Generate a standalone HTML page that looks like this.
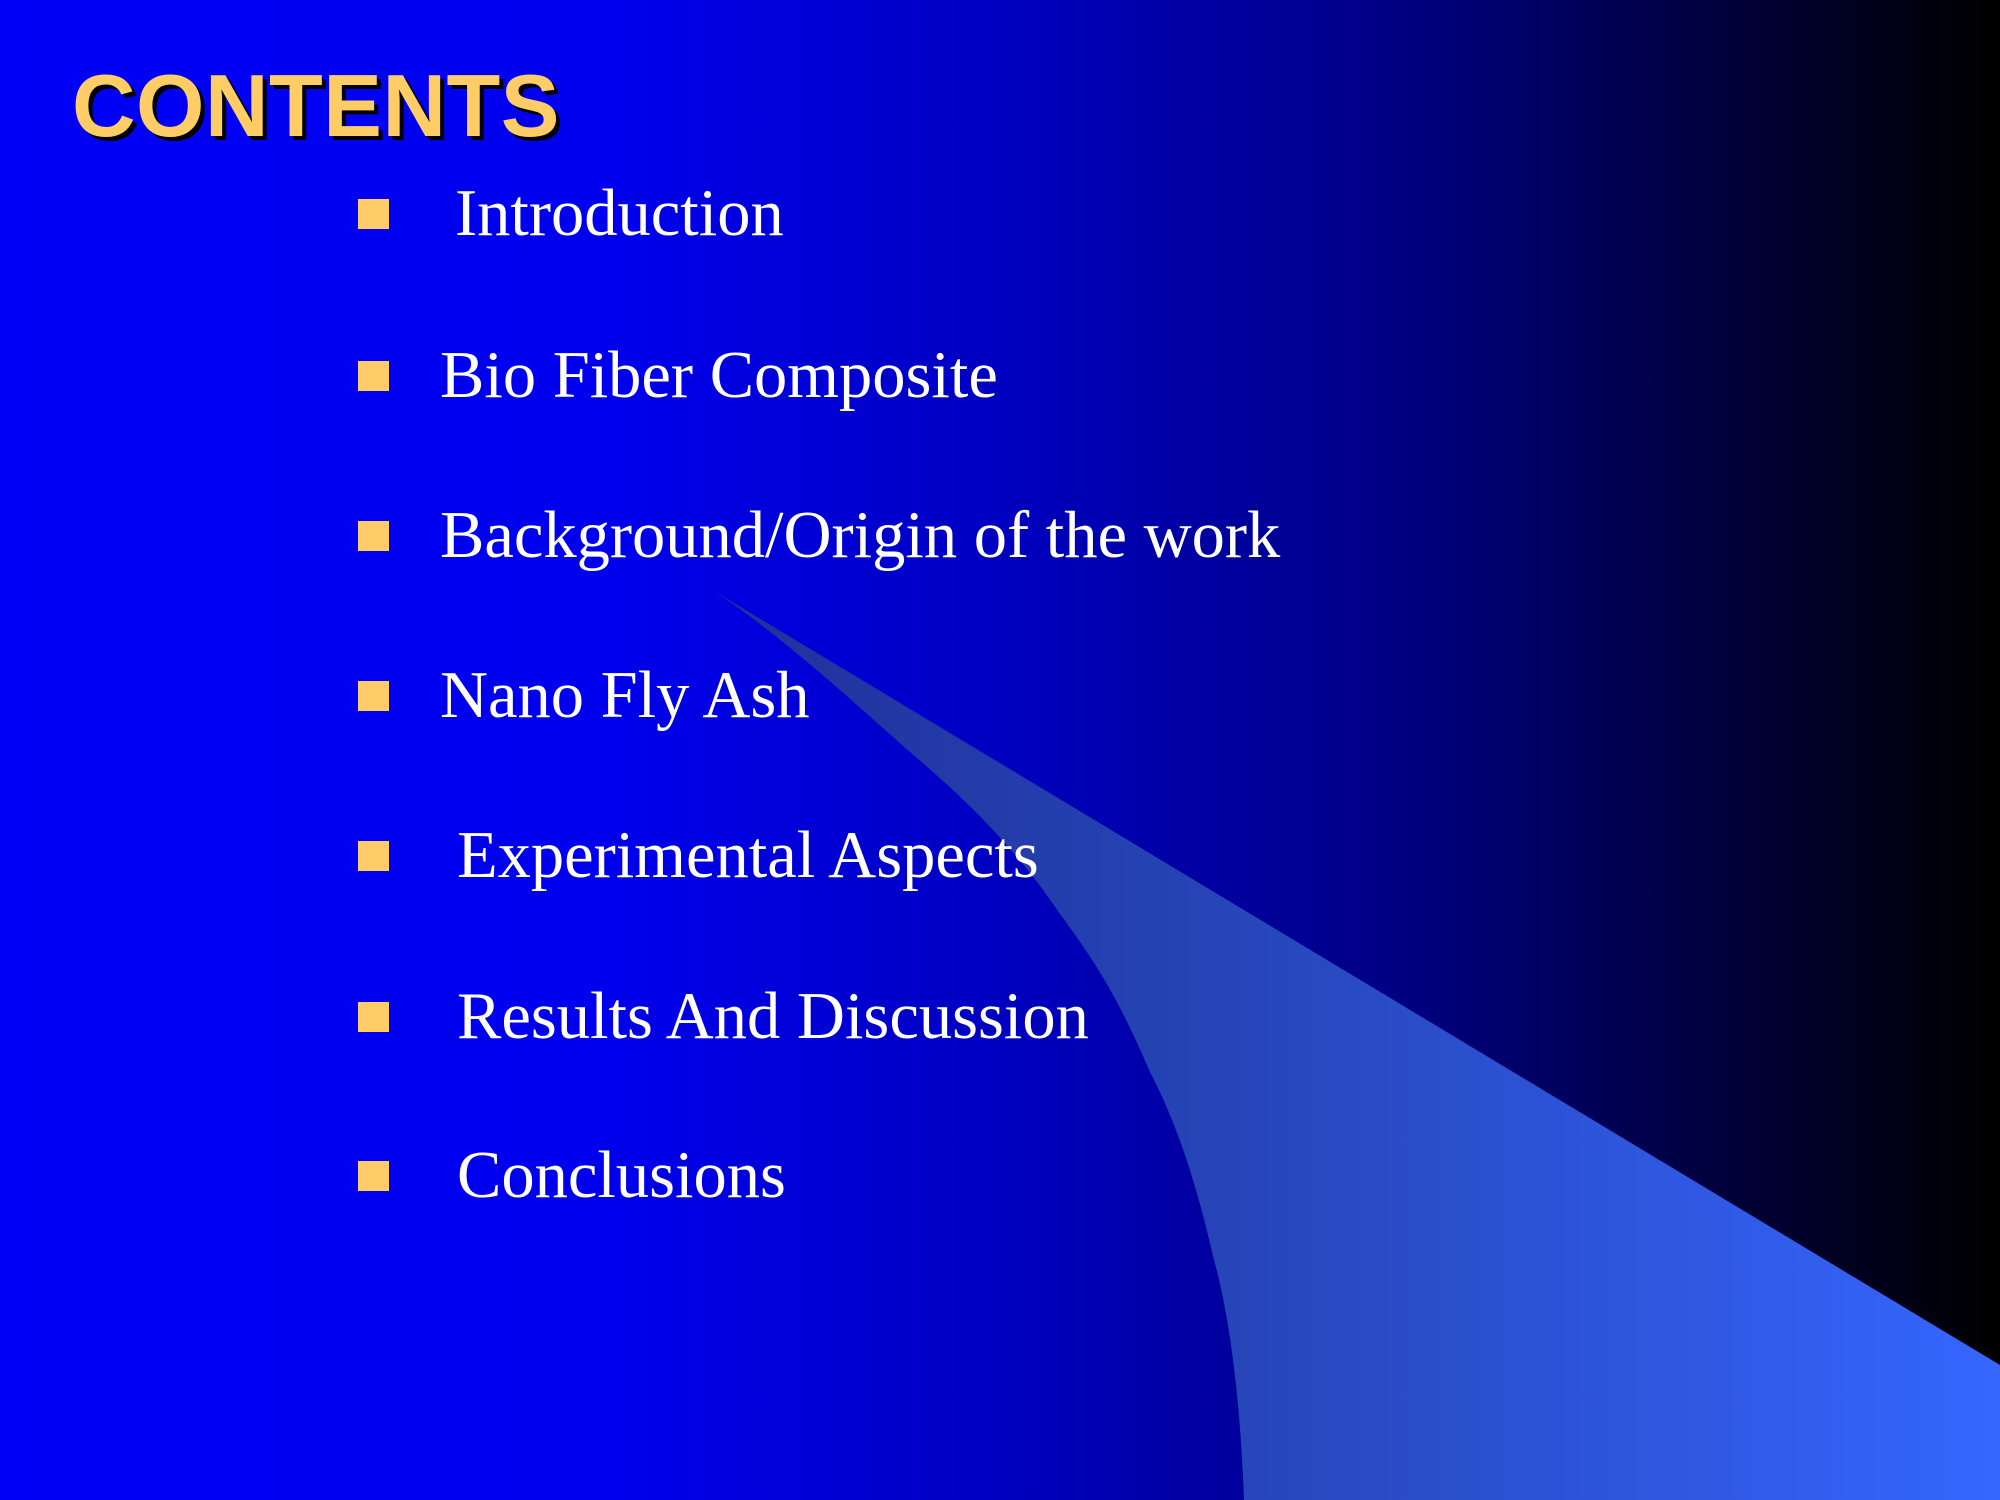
<!DOCTYPE html>
<html><head><meta charset="utf-8"><style>
html,body{margin:0;padding:0}
body{width:2000px;height:1500px;position:relative;overflow:hidden;background:linear-gradient(90deg,#0000f8 0%,#0000ee 30%,#0000c0 50%,#00008a 68%,#000040 85%,#000000 100%);font-family:"Liberation Serif",serif}
svg{position:absolute;left:0;top:0}
.title{position:absolute;left:72px;top:55px;font:bold 88px "Liberation Sans",sans-serif;color:#ffcc66;text-shadow:4px 4px 0 #000;margin:0;letter-spacing:0.5px}
.bullet{position:absolute;left:358px;width:31px;height:30px;background:#ffcc66}
.txt{position:absolute;color:#fff;font-size:66.5px;white-space:nowrap;line-height:1}
</style></head><body>
<svg width="2000" height="1500">
<defs><linearGradient id="g" x1="0" x2="1" y1="0" y2="0"><stop offset="0" stop-color="#20309a"/><stop offset="0.4" stop-color="#2645b8"/><stop offset="1" stop-color="#3566ff"/></linearGradient></defs>
<path d="M714,591 L2000,1365 L2000,1500 L1244,1500 C1240,1390 1228,1310 1214,1260 C1198,1190 1178,1125 1150,1072 C1115,990 1090,955 1060,914 C1010,840 960,795 910,752 C840,690 780,635 714,591 Z" fill="url(#g)"/>
</svg>
<h1 class="title">CONTENTS</h1>
<div>
<div class="bullet" style="top:199px"></div><div class="txt" style="left:455px;top:181px">Introduction</div>
<div class="bullet" style="top:361px"></div><div class="txt" style="left:440px;top:343px">Bio Fiber Composite</div>
<div class="bullet" style="top:521px"></div><div class="txt" style="left:440px;top:503px">Background/Origin of the work</div>
<div class="bullet" style="top:681px"></div><div class="txt" style="left:440px;top:663px">Nano Fly Ash</div>
<div class="bullet" style="top:841px"></div><div class="txt" style="left:457px;top:823px">Experimental Aspects</div>
<div class="bullet" style="top:1002px"></div><div class="txt" style="left:457px;top:984px">Results And Discussion</div>
<div class="bullet" style="top:1161px"></div><div class="txt" style="left:457px;top:1143px">Conclusions</div>
</div>
</body></html>
